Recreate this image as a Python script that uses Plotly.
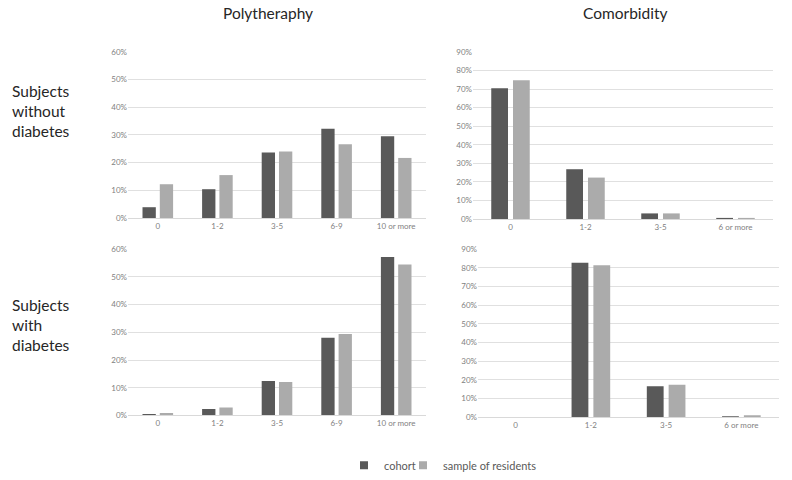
import plotly.graph_objects as go

poly_cats = ["0", "1-2", "3-5", "6-9", "10 or more"]
comor_cats = ["0", "1-2", "3-5", "6 or more"]

poly_without_cohort = [3.9, 10.4, 23.7, 32.2, 29.5]
poly_without_sample = [12.2, 15.5, 24.0, 26.6, 21.7]
comor_without_cohort = [70.4, 26.8, 3.0, 0.5]
comor_without_sample = [74.7, 22.3, 3.0, 0.35]
poly_with_cohort = [0.5, 2.3, 12.4, 28.0, 57.2]
poly_with_sample = [0.9, 2.8, 12.1, 29.4, 54.5]
comor_with_cohort = [0, 82.8, 16.6, 0.35]
comor_with_sample = [0, 81.4, 17.5, 1.05]

series_names = ["cohort", "sample of residents"]
colors = ["#595959", "#ababab"]

W, H = 792, 480

def px_x(a, b):
    return [a / W, b / W]

def px_y(top, bottom):
    return [(H - bottom) / H, (H - top) / H]

panels = [
    ("x", "y", poly_cats, poly_without_cohort, poly_without_sample, px_x(128, 426), px_y(48, 218), 60),
    ("x2", "y2", comor_cats, comor_without_cohort, comor_without_sample, px_x(473, 773), px_y(48, 219), 90),
    ("x3", "y3", poly_cats, poly_with_cohort, poly_with_sample, px_x(128, 426), px_y(250, 420), 60),
    ("x4", "y4", comor_cats, comor_with_cohort, comor_with_sample, px_x(478, 779), px_y(250, 422), 90),
]

fig = go.Figure()
layout = {}
for i, (xa, ya, cats, c_vals, s_vals, xdom, ydom, ymax) in enumerate(panels):
    for j, vals in enumerate([c_vals, s_vals]):
        fig.add_trace(go.Bar(
            x=cats, y=vals, xaxis=xa, yaxis=ya,
            name=series_names[j], marker=dict(color=colors[j], line=dict(width=0)),
            showlegend=False, legendgroup=series_names[j], offsetgroup=str(j),
        ))
    xkey = "xaxis" if xa == "x" else "xaxis" + xa[1:]
    ykey = "yaxis" if ya == "y" else "yaxis" + ya[1:]
    layout[xkey] = dict(
        domain=xdom, anchor=ya, type="category", showline=True, linecolor="#d9d9d9",
        linewidth=1, showgrid=False, ticks="", tickfont=dict(size=8, color="#7f7f7f"),
        fixedrange=True,
    )
    layout[ykey] = dict(
        domain=ydom, anchor=xa, range=[0, ymax], dtick=10, ticksuffix="%",
        showgrid=True, gridcolor="#e0e0e0", gridwidth=1, zeroline=False, showline=False,
        ticks="", tickfont=dict(size=8, color="#7f7f7f"), fixedrange=True,
    )

# legend entries (small square keys, as in the reference), one legend per entry
legend_ids = ["legend", "legend2"]
for j, name in enumerate(series_names):
    fig.add_trace(go.Scatter(
        x=[None], y=[None], mode="markers", name=name, legendgroup=name,
        legend=legend_ids[j],
        marker=dict(symbol="square", size=8, color=colors[j]), showlegend=True,
    ))

fig.update_layout(**layout)

font_family = "Lato, 'Open Sans', sans-serif"
annotations = [
    dict(text="Polytheraphy", x=268 / W, y=1 - 8 / H, xref="paper", yref="paper",
         showarrow=False, xanchor="center", yanchor="middle",
         font=dict(size=15.5, color="#262626", family=font_family)),
    dict(text="Comorbidity", x=625 / W, y=1 - 8 / H, xref="paper", yref="paper",
         showarrow=False, xanchor="center", yanchor="middle",
         font=dict(size=15.5, color="#262626", family=font_family)),
    dict(text="Subjects<br>without<br>diabetes", x=10 / W, y=1 - 108 / H, xref="paper", yref="paper",
         showarrow=False, xanchor="left", yanchor="middle", align="left",
         font=dict(size=15.5, color="#262626", family=font_family)),
    dict(text="Subjects<br>with<br>diabetes", x=10 / W, y=1 - 328 / H, xref="paper", yref="paper",
         showarrow=False, xanchor="left", yanchor="middle", align="left",
         font=dict(size=15.5, color="#262626", family=font_family)),
]

legend_style = dict(orientation="h", yanchor="middle", xanchor="left",
                    font=dict(size=11, color="#595959"), itemwidth=30,
                    bgcolor="rgba(0,0,0,0)")

fig.update_layout(
    width=W, height=H,
    margin=dict(l=0, r=0, t=0, b=0),
    paper_bgcolor="white", plot_bgcolor="white",
    barmode="group", bargap=0.42, bargroupgap=0.23,
    font=dict(family=font_family, color="#595959"),
    annotations=annotations,
    legend=dict(x=344 / W, y=9 / H, **legend_style),
    legend2=dict(x=403 / W, y=9 / H, **legend_style),
)

fig.write_html("out.html", config={"displayModeBar": False},
               post_script="document.body.style.margin='0';")
